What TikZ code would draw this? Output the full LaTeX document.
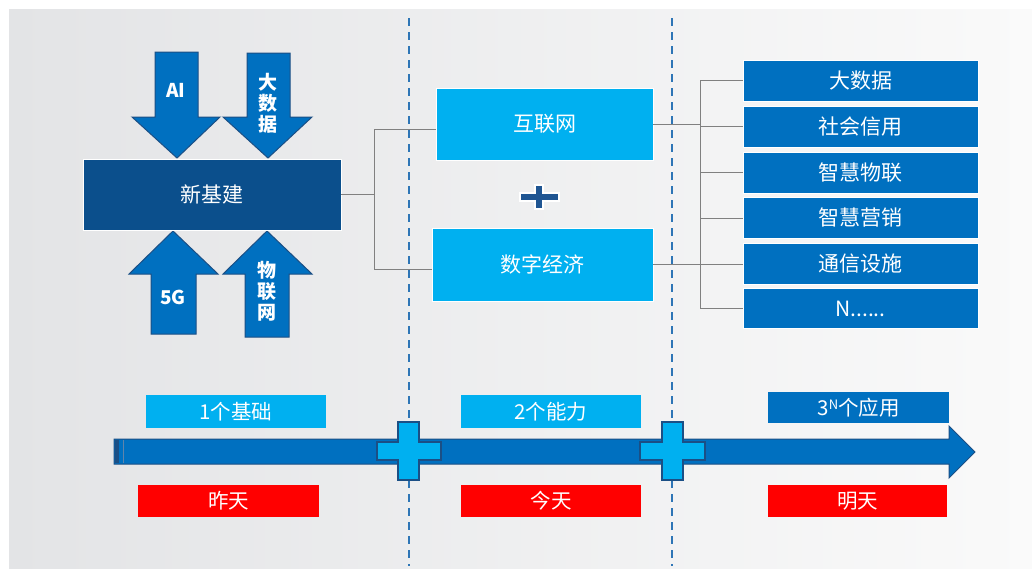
\documentclass[tikz,border=0pt]{standalone}
\usepackage{fontspec}
\setmainfont{Noto Sans CJK SC}
\definecolor{dkblue}{HTML}{0B4F8C}
\definecolor{midblue}{HTML}{0070C0}
\definecolor{ltblue}{HTML}{00B0F0}
\definecolor{edgeblue}{HTML}{1B4F85}
\definecolor{dashblue}{HTML}{2E75B6}
\definecolor{conngray}{HTML}{808080}
\definecolor{bgL}{HTML}{E3E4E6}
\definecolor{bgR}{HTML}{FAFAFA}
\definecolor{plusblue}{HTML}{1F5592}
\tikzset{
  box/.style={minimum width=#1, inner sep=0pt, text=white, draw=white, line width=0.8pt},
  conn/.style={draw=conngray, line width=0.9pt},
  vline/.style={draw=dashblue, line width=2.2pt, dash pattern=on 8pt off 6pt},
  bigarrow/.style={fill=midblue, draw=edgeblue, line width=1pt, line join=miter},
  lbl/.style={text=white, font=\fontsize{19}{21}\selectfont\bfseries, align=center, inner sep=0pt},
  txt20/.style={font=\fontsize{21}{23}\selectfont},
  txt19/.style={font=\fontsize{20.5}{22}\selectfont},
  crossshape/.style={fill=ltblue, draw=edgeblue, line width=1.4pt, line join=miter}
}
\begin{document}
\begin{tikzpicture}[x=1pt,y=-1pt]
\useasboundingbox (0,0) rectangle (1032,568);
\fill[white] (0,0) rectangle (1032,568);
\shade[left color=bgL, right color=bgR] (9,9) rectangle (1032,568);

% top and bottom arrows
\path[bigarrow] (155,52) -- (198,52) -- (198,117) -- (220,117) -- (177,158) -- (132,117) -- (155,117) -- cycle;
\path[bigarrow] (247,53) -- (290,53) -- (290,117) -- (312,117) -- (268,158) -- (223,117) -- (247,117) -- cycle;
\path[bigarrow] (151,334) -- (196,334) -- (196,274) -- (218,274) -- (173,231) -- (129,274) -- (151,274) -- cycle;
\path[bigarrow] (245,337) -- (289,337) -- (289,274) -- (312,274) -- (267,231) -- (223,274) -- (245,274) -- cycle;
\node[lbl] (ai) at (176,90) {AI};
\node[lbl] (dsj) at (268,103) {大\\数\\据};
\node[lbl] (fg) at (173,297) {5G};
\node[lbl] (wlw) at (267,291) {物\\联\\网};

% central box
\node[box=258pt, minimum height=71pt, fill=dkblue, txt20] (xj) at (212,194.5) {新基建};

% middle boxes
\node[box=217pt, minimum height=72pt, fill=ltblue, txt20] (hl) at (544.5,124) {互联网};
\node[box=221pt, minimum height=73pt, fill=ltblue, txt20] (sz) at (542.5,264.5) {数字经济};

% small plus
\path[fill=plusblue, draw=white, line width=1.2pt, line join=miter]
  (535,185) -- (543,185) -- (543,193) -- (559,193) -- (559,201) -- (543,201) -- (543,209) -- (535,209) -- (535,201) -- (520,201) -- (520,193) -- (535,193) -- cycle;

% right boxes
\node[box=235pt, minimum height=41pt, fill=midblue, txt20] (r1) at (860.5,80.5) {大数据};
\node[box=235pt, minimum height=41pt, fill=midblue, txt20] (r2) at (860.5,126.5) {社会信用};
\node[box=235pt, minimum height=41pt, fill=midblue, txt20] (r3) at (860.5,172.5) {智慧物联};
\node[box=235pt, minimum height=41pt, fill=midblue, txt20] (r4) at (860.5,218) {智慧营销};
\node[box=235pt, minimum height=41pt, fill=midblue, txt20] (r5) at (860.5,264) {通信设施};
\node[box=235pt, minimum height=40pt, fill=midblue, txt20] (r6) at (860.5,308.5) {N......};

% left connectors
\coordinate (jt) at (374,129);
\coordinate (jb) at (374,269);
\draw[conn] (xj.east) -- (xj.east -| jt);
\draw[conn] (hl.west |- jt) -- (jt) -- (jb) -- (sz.west |- jb);

% right connectors
\coordinate (rt) at (700,0);
\draw[conn] (r1.west) -- (r1.west -| rt) -- (r6.west -| rt) -- (r6.west);
\draw[conn] (r2.west) -- (r2.west -| rt);
\draw[conn] (r3.west) -- (r3.west -| rt);
\draw[conn] (r4.west) -- (r4.west -| rt);
\draw[conn] (r5.west) -- (r5.west -| rt);
\draw[conn] (hl.east) -- (hl.east -| rt);
\draw[conn] (sz.east) -- (sz.east -| rt);

% dashed separators
\draw[vline] (409,18) -- (409,566);
\draw[vline] (672,18) -- (672,566);

% timeline labels
\node[box=180pt, minimum height=33pt, fill=ltblue, draw=none, txt19] (b1) at (236,411.5) {1个基础};
\node[box=180pt, minimum height=33pt, fill=ltblue, draw=none, txt19] (b2) at (551,411.5) {2个能力};
\node[box=181pt, minimum height=31pt, fill=midblue, draw=none, txt19] (b3) at (858.5,407.5) {3\raisebox{0.55ex}{\fontsize{13}{13}\selectfont N}个应用};
\node[box=181pt, minimum height=32pt, fill=red, draw=none, txt19] (t1) at (228.5,501) {昨天};
\node[box=180pt, minimum height=32pt, fill=red, draw=none, txt19] (t2) at (551,501) {今天};
\node[box=179pt, minimum height=32pt, fill=red, draw=none, txt19] (t3) at (857.5,501) {明天};

% timeline arrow
\path[bigarrow] (114,439) -- (949,439) -- (949,426) -- (975,452) -- (949,478) -- (949,464) -- (114,464) -- cycle;
\fill[edgeblue] (115,440) rectangle (119,463);
\draw[edgeblue!70, line width=0.6pt] (123,440) -- (123,463);

% crosses on the timeline
\path[crossshape] (398,422) -- (419,422) -- (419,442) -- (441,442) -- (441,460) -- (419,460) -- (419,480) -- (398,480) -- (398,460) -- (377,460) -- (377,442) -- (398,442) -- cycle;
\path[crossshape] (662,422) -- (683,422) -- (683,442) -- (705,442) -- (705,460) -- (683,460) -- (683,480) -- (662,480) -- (662,460) -- (640,460) -- (640,442) -- (662,442) -- cycle;
\end{tikzpicture}
\end{document}
